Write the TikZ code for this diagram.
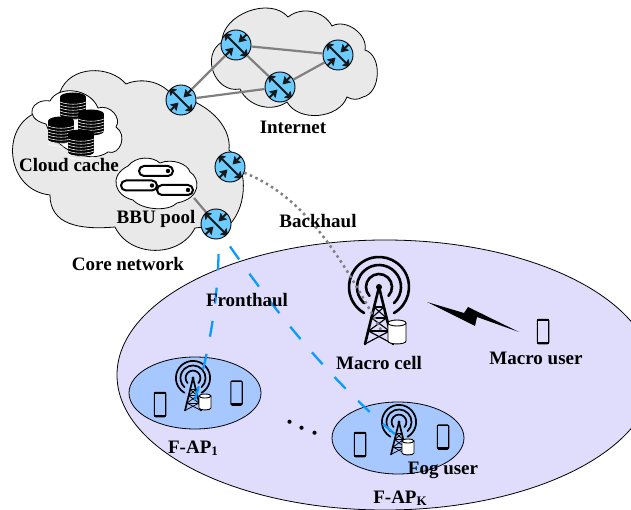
\documentclass[tikz,border=0pt]{standalone}
\usepackage{fontspec}
\setmainfont{Liberation Serif}
\usetikzlibrary{arrows.meta}
\definecolor{lav}{HTML}{E0DCFC}
\definecolor{apblue}{HTML}{A6C8FF}
\definecolor{rblue}{HTML}{6CCBFF}
\definecolor{cloudg}{HTML}{E9E9E9}
\definecolor{linkg}{HTML}{808080}
\definecolor{fh}{HTML}{0A9BFF}
\tikzset{
 x=1pt,y=-1pt,
 cloudshape/.style={draw=black,line width=.8pt,fill=cloudg},
 whitecloud/.style={draw=black,line width=.8pt,fill=white},
 router/.style={circle,draw=black,line width=.9pt,fill=rblue,minimum size=30pt,inner sep=0pt,
  path picture={\begin{scope}[shift=(path picture bounding box.center)]
   \draw[rarrow,{Stealth[length=7.5pt,width=9pt,inset=1pt]}-{Stealth[length=7.5pt,width=9pt,inset=1pt]}] (-12.5,-12.5)--(12.5,12.5);
   \draw[rarrow,-{Stealth[length=7.5pt,width=9pt,inset=1pt]}] (11.5,-11.5)--(2.5,-2.5);
   \draw[rarrow,-{Stealth[length=7.5pt,width=9pt,inset=1pt]}] (-11.5,11.5)--(-2.5,2.5);
  \end{scope}}},
 rarrow/.style={line width=2pt,draw=black!90},
 link/.style={draw=linkg,line width=2.2pt},
 fronth/.style={draw=fh,line width=2.3pt},
 lab/.style={font=\fontsize{19}{19}\selectfont\bfseries,inner sep=0pt,text=black},
}
\newcommand\subs[1]{\raisebox{-2pt}{\fontsize{13}{13}\selectfont #1}}
\newcommand\diskstack[3]{%
 \fill[black] ({#1-13},#2) rectangle ({#1+13},{#3-4});
 \fill[black] (#1,#2) ellipse [x radius=13pt,y radius=4.5pt];
 \fill[black] (#1,{#3-4}) ellipse [x radius=13pt,y radius=4.5pt];
 \foreach \yy in {8,11,...,26}{
  \draw[white,line width=.55pt] ({#1-13},{#2+\yy-3}) .. controls ({#1-6},{#2+\yy}) and ({#1+6},{#2+\yy}) .. ({#1+13},{#2+\yy-3});
 }}
\newcommand\phoneat[2]{%
 \draw[black,line width=1.1pt,rounded corners=1.2pt] ({#1-5.7},{#2-12.2}) rectangle ({#1+5.7},{#2+12.2});
 \fill[black] ({#1-5.7},{#2-12.2}) rectangle ({#1+5.7},{#2-10.6});
 \fill[black] ({#1-5.7},{#2+10}) rectangle ({#1+5.7},{#2+12.2});}
\newcommand\dbat[5]{% cx top bottom rx ry
 \draw[black,line width=.9pt,fill=white] ({#1-#4},{#2}) -- ({#1-#4},{#3}) .. controls ({#1-#4},{#3+#5*1.3}) and ({#1+#4},{#3+#5*1.3}) .. ({#1+#4},{#3}) -- ({#1+#4},{#2});
 \draw[black,line width=.9pt,fill=white] (#1,#2) ellipse [x radius=#4 pt,y radius=#5 pt];}
\newcommand\towerat[4]{% x y scale linewidth
 \begin{scope}[shift={(#1,#2)},scale=#3,line width=#4 pt,black,line cap=round]
  \draw (-60:30pt) arc[start angle=-60,end angle=240,radius=30pt];
  \draw (-47:22pt) arc[start angle=-47,end angle=227,radius=22pt];
  \draw (-43:13pt) arc[start angle=-43,end angle=223,radius=13pt];
  \fill (0,0) circle[radius=3pt];
  \draw (0,0)--(-14,57) (0,0)--(14,57);
  \begin{scope}[line width=.45*#4 pt]
  \draw (-5,20)--(5,20) (-7.5,31)--(7.5,31) (-10.5,44)--(10.5,44);
  \draw (-5,20)--(7.5,31)--(-10.5,44)--(14,57);
  \draw (5,20)--(-7.5,31)--(10.5,44)--(-14,57);
  \end{scope}
 \end{scope}}
\begin{document}
\begin{tikzpicture}
\clip (0,0) rectangle (631,510);
% big ellipse
\fill[lav,draw=black,line width=.8pt] (385,375) ellipse [x radius=268pt,y radius=135pt];
% AP ellipses
\draw[black,line width=.8pt,fill=apblue] (195,393) ellipse [x radius=66pt,y radius=36pt];
\draw[black,line width=.8pt,fill=apblue] (398,438) ellipse [x radius=66pt,y radius=36pt];
% core cloud
\draw[cloudshape] (50,195) .. controls (5,190) and (0,125) .. (38,112) -- (60,92)
 .. controls (70,65) and (110,65) .. (126,84)
 .. controls (140,78) and (160,80) .. (172,95)
 .. controls (205,100) and (232,125) .. (229,150)
 .. controls (248,165) and (248,205) .. (230,224)
 -- (195,228)
 .. controls (180,258) and (130,258) .. (115,227)
 .. controls (80,230) and (50,225) .. (50,195) -- cycle;
% internet cloud
\draw[cloudshape] (222,42) to[bend left=70] (288,17) to[bend left=50] (332,26) to[bend left=65] (365,50)
 to[bend left=75] (363,97) to[bend left=30] (347,97) to[bend left=65] (287,102) to[bend left=50] (240,89)
 to[bend left=80,looseness=1.3] (222,42) -- cycle;
% inner clouds
\draw[whitecloud] (46,124) .. controls (22,118) and (32,98) .. (50,101)
 .. controls (58,85) and (90,88) .. (98,108)
 .. controls (110,104) and (122,118) .. (116,127)
 .. controls (128,135) and (120,156) .. (108,152)
 .. controls (90,165) and (55,150) .. (46,124) -- cycle;
\draw[whitecloud] (128,166) .. controls (136,156) and (152,156) .. (160,163)
 .. controls (172,158) and (188,164) .. (190,172)
 .. controls (200,178) and (202,198) .. (177,203)
 .. controls (168,212) and (142,210) .. (133,200)
 .. controls (115,196) and (108,176) .. (128,166) -- cycle;
% disks
\diskstack{73}{97}{119}
\diskstack{91}{114}{135}
\diskstack{61}{121}{143}
\diskstack{81}{134}{156}
% pills
\foreach \xa/\xb/\yy in {139/173/171,121/157/185.5,157/193/190}{
 \draw[black,line width=2pt,fill=white,rounded corners=5pt] (\xa,\yy-5) rectangle (\xb,\yy+5);
 \fill[black] (\xb-5,\yy) circle[radius=2.2pt];
}
% routers
\coordinate (bbu) at (194,198);
\coordinate (mast0) at (381,330);
\coordinate (mast1) at (195,400);
\coordinate (mastk) at (396,435);
\draw[link] (bbu)--(216,224);
\node[router] (ra) at (181,100) {};
\node[router] (rb) at (236,45) {};
\node[router] (rc) at (280,87) {};
\node[router] (rd) at (338,55) {};
\node[router] (re) at (230,167) {};
\node[router] (rf) at (216,224) {};
% towers and stores under the links, as printed
\towerat{379}{287}{1}{2.6}
\towerat{193}{378}{.57}{1.7}
\towerat{399}{422}{.57}{1.7}
% links
\draw[link] (ra)--(rb);
\draw[link] (ra)--(rc);
\draw[link] (rb)--(rc);
\draw[link] (rb)--(rd);
\draw[link] (rc)--(rd);
\draw[draw=linkg,line width=2.5pt,dash pattern=on 2.5pt off 3.5pt] (re) .. controls (300,195) and (335,245) .. (mast0);
\draw[fronth,dash pattern=on 16pt off 17.5pt,dash phase=18.5pt] (rf.-80) .. controls (219,290) and (212,340) .. (mast1);
\draw[fronth,dash pattern=on 16pt off 17.5pt,dash phase=22.5pt] (rf.-60) .. controls (275,312) and (330,380) .. (mastk);
\dbat{397}{323}{341}{9}{3}
\dbat{205}{396}{408}{6}{2}
\dbat{408}{441}{453}{6}{2}
% phones
\phoneat{160}{404.5}
\phoneat{236.5}{393}
\phoneat{360}{444.5}
\phoneat{443}{437}
\phoneat{543}{331.5}
% bolt
\fill[black] (427,302)--(464,313)--(468,307)--(519,332)--(477,317)--(475,326)--cycle;
% labels
\node[lab] (l1) at (69,165) {Cloud cache};
\node[lab] (l2) at (156,219) {BBU pool};
\node[lab] (l3) at (128,264) {Core network};
\node[lab] (l4) at (293,127) {Internet};
\node[lab] (l5) at (318,221) {Backhaul};
\node[lab] (l6) at (247,300) {Fronthaul};
\node[lab] (l7) at (379,363) {Macro cell};
\node[lab] (l8) at (536,358) {Macro user};
\node[lab] (l9) at (193,448) {F-AP\subs{1}};
\node[lab] (l10) at (400,498) {F-AP\subs{K}};
\node[lab] (l11) at (443,470) {Fog user};
\node[lab,rotate=-24,anchor=base,font=\fontsize{25}{25}\selectfont\bfseries] (l12) at (301.5,429.5) {.\hspace{7.5pt}.\hspace{7.5pt}.};
\end{tikzpicture}
\end{document}
